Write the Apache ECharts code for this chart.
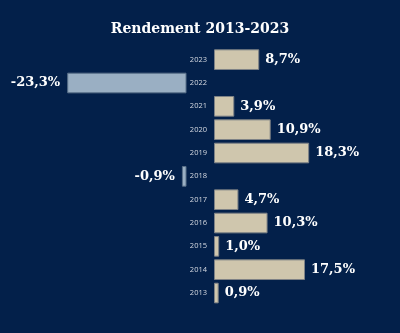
<!DOCTYPE html>
<html>
<head>
<meta charset="utf-8">
<script src="https://cdn.jsdelivr.net/npm/echarts@6/dist/echarts.min.js"></script>
<style>
  html, body { margin: 0; padding: 0; background: #03204a; }
  #chart { width: 400px; height: 333px; }
</style>
</head>
<body>
<div id="chart"></div>
<script>
// Annual returns, newest year at the top
const years = ['2023', '2022', '2021', '2020', '2019', '2018', '2017', '2016', '2015', '2014', '2013'];
const returns = [8.7, -23.3, 3.9, 10.9, 18.3, -0.9, 4.7, 10.3, 1.0, 17.5, 0.9];
const titleText = 'Rendement 2013-2023';

const positive = returns.map(v => (v >= 0 ? v : null));
const negative = returns.map(v => (v < 0 ? v : null));

const fmt = p => p.value.toFixed(1).replace('.', ',') + '%';
const valueLabelFont = {
  color: '#ffffff',
  fontFamily: '"DejaVu Serif", serif',
  fontWeight: 'bold',
  fontSize: 13
};

const plotTop = 48;
const plotHeight = 256.7;

const chart = echarts.init(document.getElementById('chart'), null, { renderer: 'canvas' });
chart.setOption({
  backgroundColor: '#03204a',
  animation: false,
  title: {
    text: titleText,
    left: 'center',
    top: 17,
    textStyle: {
      color: '#ffffff',
      fontFamily: '"DejaVu Serif", serif',
      fontWeight: 'bold',
      fontSize: 14
    }
  },
  grid: [
    { left: 214, top: plotTop, width: 156, height: plotHeight },
    { left: 186.5 - 153.6, top: plotTop, width: 153.6, height: plotHeight }
  ],
  xAxis: [
    { gridIndex: 0, type: 'value', min: 0, max: 30, show: false },
    { gridIndex: 1, type: 'value', min: -30, max: 0, show: false }
  ],
  yAxis: [
    {
      gridIndex: 0, type: 'category', data: years, inverse: true,
      axisLine: { show: false }, axisTick: { show: false }, splitLine: { show: false },
      axisLabel: { color: '#d6dae2', fontSize: 7.5, fontFamily: '"Open Sans", sans-serif', margin: 7 }
    },
    {
      gridIndex: 1, type: 'category', data: years, inverse: true, show: false
    }
  ],
  series: [
    {
      type: 'bar', xAxisIndex: 0, yAxisIndex: 0, data: positive,
      barCategoryGap: '11.5%',
      itemStyle: { color: '#cfc6ad', borderColor: '#7e8286', borderWidth: 1 },
      label: Object.assign({ show: true, position: 'right', distance: 6, formatter: fmt }, valueLabelFont)
    },
    {
      type: 'bar', xAxisIndex: 1, yAxisIndex: 1, data: negative,
      barCategoryGap: '11.5%',
      itemStyle: { color: '#9aafc3', borderColor: '#5a7089', borderWidth: 1 },
      label: Object.assign({ show: true, position: 'left', distance: 7, formatter: fmt }, valueLabelFont)
    }
  ]
});
</script>
</body>
</html>
